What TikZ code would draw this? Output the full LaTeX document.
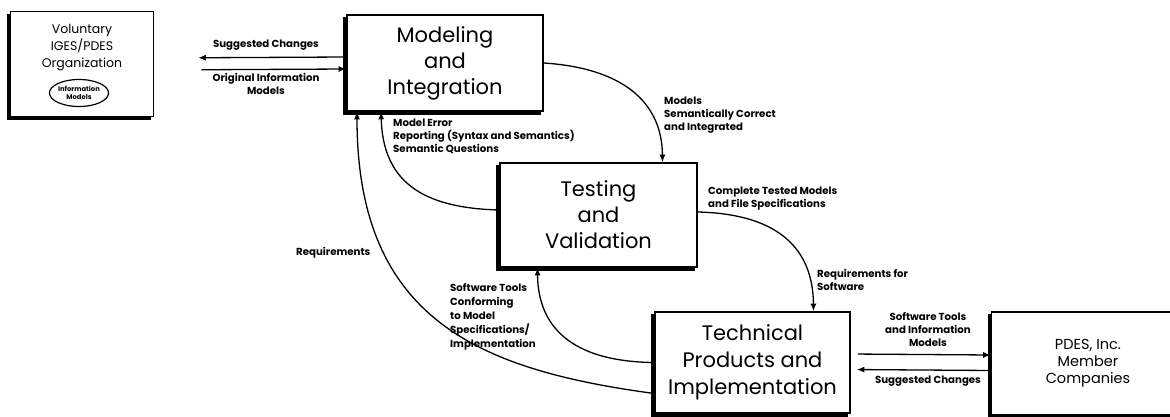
\documentclass[tikz,border=0pt]{standalone}
\usepackage{fontspec}
\setmainfont{Poppins}
\usetikzlibrary{arrows.meta,shapes.geometric}

\begin{document}
\begin{tikzpicture}[x=1pt, y=-1pt,
    box/.style={rectangle, draw=black, line width=1.6pt, fill=white,
                align=center, font=\fontsize{21}{26}\selectfont},
    shade edge/.style={line width=3.2pt},
    lbl/.style={font=\fontsize{10.2}{13}\selectfont\bfseries, align=left, inner sep=0pt},
    arr/.style={-{Latex[length=7.5pt, width=6pt]}, line width=1.3pt},
]
    \clip (0,0) rectangle (1170,417);
    % Boxes
    \node[box, minimum width=143pt, minimum height=105pt] (vol) at (82,64) {};
    \node[align=center, inner sep=0pt, font=\fontsize{12.5}{17}\selectfont] (voltext) at (82,48) {Voluntary\\IGES/PDES\\Organization};
    \node[ellipse, draw, line width=1.2pt, minimum width=56pt, minimum height=27pt, inner sep=0pt,
          align=center, font=\fontsize{6.8}{8}\selectfont\bfseries] (infomod) at (79,93) {Information\\Models};
    \node[box, minimum width=196pt, minimum height=96pt] (mod) at (445,63) {Modeling\\and\\Integration};
    \node[box, minimum width=197pt, minimum height=104pt] (test) at (598.5,215) {Testing\\and\\Validation};
    \node[box, minimum width=195pt, minimum height=101pt, font=\fontsize{21}{27}\selectfont] (tech) at (752.5,362.5) {Technical\\Products and\\Implementation};
    \node[box, minimum width=193pt, minimum height=103pt, font=\fontsize{14.5}{17}\selectfont] (pdes) at (1088,363.5) {PDES, Inc.\\Member\\Companies};
    % Heavy edges on the left and bottom of every box
    \foreach \bx in {vol,mod,test,tech,pdes}
        \draw[shade edge] ([xshift=-1.6pt,yshift=-3pt]\bx.north west) |- ([xshift=-3pt,yshift=-1.6pt]\bx.south east);

    % Voluntary organization <-> modeling
    \draw[arr, shorten >=44pt] ([yshift=6pt]mod.west) -- ([yshift=6pt]vol.east);
    \draw[arr, shorten <=47pt] ([yshift=-6pt]vol.east) -- ([yshift=-6pt]mod.west);
    \node[lbl] (sugch1) at (266,45) {Suggested Changes};
    \node[lbl, align=center] (orig) at (266,84) {Original Information\\Models};

    % Main flow (right side)
    \draw[arr] (mod.east) .. controls (620,68) and (662,100) .. ([xshift=64pt]test.north);
    \node[lbl, anchor=west] (semok) at (664,115) {Models\\Semantically Correct\\and Integrated};
    \draw[arr] ([yshift=3pt]test.east) .. controls (780,214) and (813,250) .. ([xshift=61pt]tech.north);
    \node[lbl, anchor=west] (tested) at (708,199) {Complete Tested Models\\and File Specifications};
    \node[lbl, anchor=west] (reqsw) at (817,280) {Requirements for\\Software};

    % Feedback (left side)
    \draw[arr] ([yshift=5pt]test.west) .. controls (420,208) and (383,180) .. ([xshift=-64pt]mod.south);
    \node[lbl, anchor=west] (moderr) at (393,136) {Model Error\\Reporting (Syntax and Semantics)\\Semantic Questions};
    \draw[arr] (tech.west) .. controls (590,362) and (538,340) .. ([xshift=-61pt]test.south);
    \node[lbl, anchor=west, font=\fontsize{10.2}{14}\selectfont\bfseries] (swconf) at (450,317) {Software Tools\\Conforming\\to Model\\Specifications/\\Implementation};
    \draw[arr, {Latex[length=7.5pt, width=6pt]}-] ([xshift=-88pt]mod.south) .. controls (357,320) and (480,370) .. ([yshift=-31pt]tech.west);
    \node[lbl, anchor=west] (req) at (296,253) {Requirements};

    % Technical products <-> member companies
    \draw[arr, shorten <=7pt] ([yshift=8.5pt]tech.east) -- ([yshift=8.5pt]pdes.west);
    \draw[arr, shorten >=6pt] ([yshift=-7pt]pdes.west) -- ([yshift=-7pt]tech.east);
    \node[lbl, align=center] (swinfo) at (928,330) {Software Tools\\and Information\\Models};
    \node[lbl] (sugch2) at (928,381) {Suggested Changes};
\end{tikzpicture}
\end{document}
